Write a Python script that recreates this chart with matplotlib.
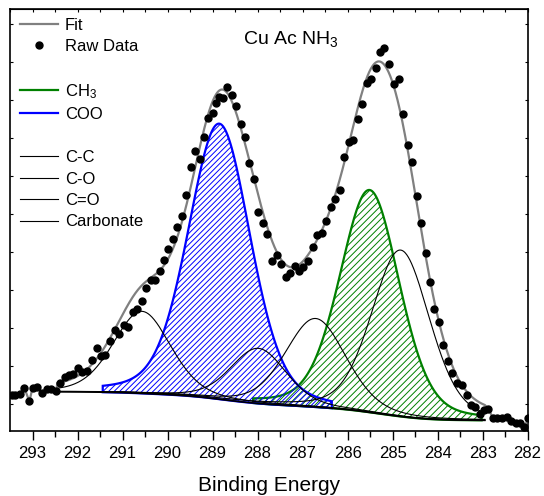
import numpy as np
import matplotlib.pyplot as plt
from matplotlib.lines import Line2D

plt.rcParams['font.family'] = ['Liberation Sans', 'DejaVu Sans']
plt.rcParams['mathtext.fontset'] = 'custom'
plt.rcParams['mathtext.rm'] = 'Liberation Sans'
plt.rcParams['mathtext.it'] = 'Liberation Sans:italic'
plt.rcParams['hatch.linewidth'] = 0.7

# raw spectrum (binding energy in eV, intensity in a.u.)
energy = [293.46, 293.38, 293.27, 293.18, 293.07, 293.00, 292.89, 292.78, 292.68, 292.59,
          292.47, 292.38, 292.27, 292.18, 292.09, 291.98, 291.89, 291.78, 291.68, 291.57,
          291.47, 291.38, 291.27, 291.16, 291.07, 290.96, 290.87, 290.77, 290.68, 290.57,
          290.47, 290.37, 290.27, 290.16, 290.07, 289.98, 289.88, 289.78, 289.68, 289.58,
          289.48, 289.38, 289.27, 289.20, 289.09, 288.98, 288.92, 288.86, 288.77, 288.67,
          288.57, 288.47, 288.37, 288.27, 288.18, 288.07, 287.98, 287.88, 287.78, 287.67,
          287.57, 287.47, 287.36, 287.27, 287.16, 287.07, 286.98, 286.87, 286.76, 286.67,
          286.57, 286.47, 286.37, 286.27, 286.16, 286.07, 285.96, 285.87, 285.77, 285.67,
          285.57, 285.47, 285.36, 285.27, 285.18, 285.07, 284.96, 284.86, 284.77, 284.66,
          284.56, 284.46, 284.36, 284.26, 284.16, 284.07, 283.96, 283.87, 283.76, 283.67,
          283.57, 283.46, 283.35, 283.26, 283.16, 283.05, 282.96, 282.87, 282.77, 282.67,
          282.57, 282.46, 282.37, 282.26, 282.16, 282.07, 281.98]
intensity = [0.25, 0.25, 0.26, 0.42, 0.07, 0.42, 0.44, 0.29, 0.39, 0.39,
             0.35, 0.55, 0.70, 0.76, 0.79, 0.95, 0.83, 0.88, 1.15, 1.47,
             1.26, 1.30, 1.65, 1.96, 1.84, 2.07, 2.03, 2.42, 2.50, 2.70,
             3.05, 3.25, 3.25, 3.51, 3.78, 4.08, 4.33, 4.67, 4.95, 5.49,
             6.24, 6.67, 6.44, 7.03, 7.52, 7.67, 7.92, 8.08, 8.04, 8.34,
             8.12, 7.84, 7.36, 7.02, 6.33, 5.91, 5.05, 4.76, 4.47, 3.75,
             3.92, 3.68, 3.35, 3.46, 3.63, 3.51, 3.60, 3.75, 4.14, 4.45,
             4.50, 4.82, 5.19, 5.39, 5.63, 6.49, 6.90, 6.95, 7.49, 7.89,
             8.46, 8.55, 8.83, 9.25, 9.36, 8.95, 8.42, 8.56, 7.62, 6.82,
             6.36, 5.48, 4.77, 3.98, 3.20, 2.49, 2.17, 1.55, 1.14, 0.81,
             0.55, 0.50, 0.24, -0.03, -0.07, -0.26, -0.17, -0.12, -0.38, -0.38,
             -0.37, -0.33, -0.44, -0.49, -0.51, -0.60, -0.37]

# fitted components
comp_names = ["CH$_3$", "COO", "C-C", "C-O", "C=O", "Carbonate"]
comp_center = [285.51, 288.85, 284.82, 286.71, 287.98, 290.57]
comp_height = [5.85, 7.25, 4.38, 2.33, 1.45, 2.16]
comp_fwhm = [1.56, 1.63, 1.52, 1.58, 1.45, 1.50]
comp_lorentz = [0.25, 0.25, 0.25, 0.25, 0.25, 0.25]

bg_left, bg_right = 0.32, -0.43
fit_lo, fit_hi = 282.95, 292.45


def gl(x, c, h, w, m):
    r = ((x - c) / w) ** 2
    return h * ((1 - m) * np.exp(-4 * np.log(2) * r) + m / (1 + 4 * r))


xs = np.linspace(fit_lo, fit_hi, 800)
peaks = [gl(xs, c, h, w, m) for c, h, w, m in
         zip(comp_center, comp_height, comp_fwhm, comp_lorentz)]
total = np.sum(peaks, axis=0)
# shirley type background
area = np.cumsum(total)
bg = bg_right + (bg_left - bg_right) * area / area[-1]
fit = total + bg

energy = np.array(energy)
intensity = np.array(intensity)

fig = plt.figure(figsize=(5.44, 4.96), dpi=100)
ax = fig.add_axes([0.0184, 0.131, 0.9531, 0.8509])

colors = {"CH$_3$": "#008000", "COO": "#0000ff"}
hatches = {"CH$_3$": "/////", "COO": "//////"}
for name, c, p in zip(comp_names, comp_center, peaks):
    if name in colors:
        sel = (xs >= c - 2.5) & (xs <= c + 2.6)
        xx = xs[sel]
        top = p[sel] + bg[sel]
        ax.fill(np.r_[xx, xx[::-1]], np.r_[top, bg[sel][::-1]],
                facecolor='none', edgecolor=colors[name], hatch=hatches[name],
                linewidth=1.6, zorder=2)
    else:
        ax.plot(xs, p + bg, color='black', lw=0.8, zorder=3)

ax.plot(xs, bg, color='black', lw=1.2, zorder=3)

# fit line, joined to the raw data outside the fitted window
left = energy > fit_hi
right = energy < fit_lo
fx = np.r_[energy[left], xs[::-1], energy[right]]
fy = np.r_[intensity[left], fit[::-1], intensity[right]]
ax.plot(fx, fy, color='#808080', lw=1.6, zorder=4)
ax.plot(energy, intensity, 'o', color='black', ms=5, zorder=5)

ax.set_xlim(293.5, 281.98)
ax.set_ylim(-0.711, 10.395)
ax.set_xticks(np.arange(282, 294, 1))
ax.set_xticks(np.arange(282.5, 293.5, 1), minor=True)
ax.set_yticks(np.arange(0, 11, 1))
ax.set_yticklabels([])
ax.tick_params(axis='x', which='major', direction='out', length=6.5, width=1,
               labelsize=12, pad=4)
ax.tick_params(axis='x', which='minor', direction='out', length=4, width=1)
ax.tick_params(axis='y', direction='in', length=2, width=0.8, left=True, right=True)
top = ax.secondary_xaxis('top')
top.set_xticks(np.arange(282, 294, 0.5))
top.tick_params(direction='in', length=2, width=0.8, labeltop=False)
for s in ax.spines.values():
    s.set_linewidth(1.2)

ax.set_xlabel("Binding Energy", fontsize=15, labelpad=11)
ax.text(0.541, 0.929, "Cu Ac NH$_3$", transform=ax.transAxes,
        ha='center', va='center', fontsize=14)

blank = Line2D([], [], color='none')
handles = [Line2D([], [], color='#808080', lw=1.6),
           Line2D([], [], ls='none', marker='o', color='black', ms=5),
           blank,
           Line2D([], [], color='#008000', lw=1.6),
           Line2D([], [], color='#0000ff', lw=1.6),
           blank,
           Line2D([], [], color='black', lw=0.8),
           Line2D([], [], color='black', lw=0.8),
           Line2D([], [], color='black', lw=0.8),
           Line2D([], [], color='black', lw=0.8)]
labels = ["Fit", "Raw Data", " ", "CH$_3$", "COO", " ", "C-C", "C-O", "C=O", "Carbonate"]
ax.legend(handles, labels, loc='upper left', bbox_to_anchor=(0.019, 0.979),
          frameon=False, fontsize=12, borderpad=0, borderaxespad=0,
          handlelength=2.28, handletextpad=0.42, labelspacing=0.386)

fig.savefig("out.png", dpi=100)
